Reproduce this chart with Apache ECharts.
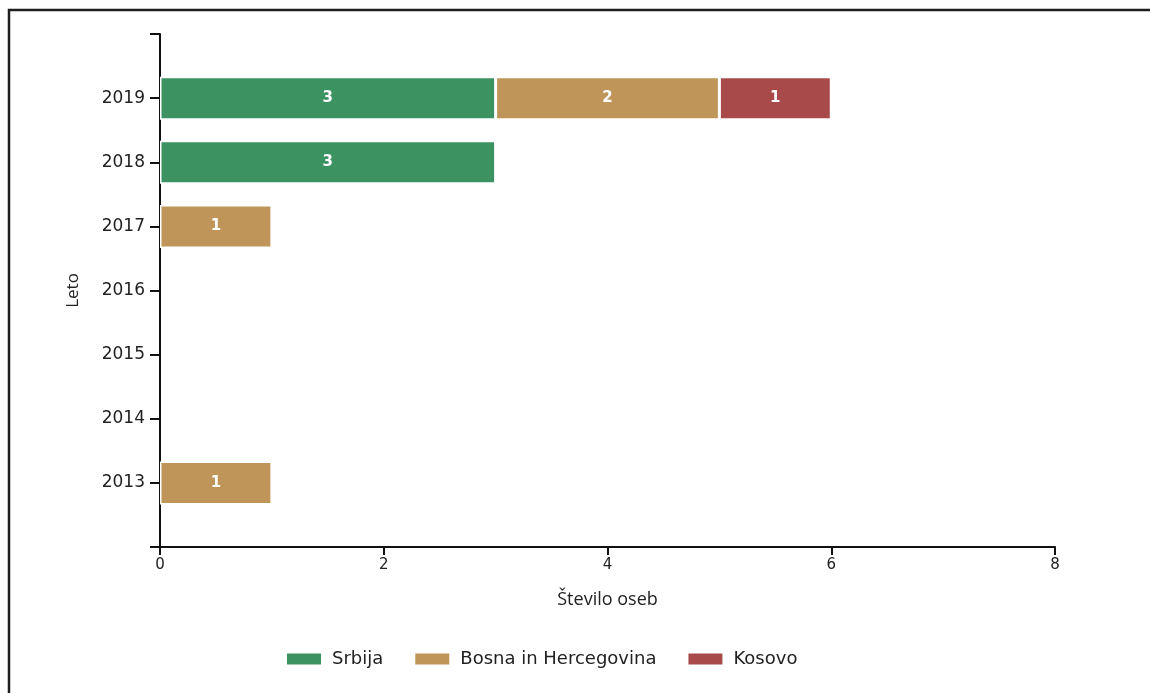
<!DOCTYPE html>
<html>
<head>
<meta charset="utf-8">
<script src="https://cdn.jsdelivr.net/npm/echarts@6/dist/echarts.min.js"></script>
<style>
html,body{margin:0;padding:0;background:#fff;}
#chart{width:1150px;height:693px;}
</style>
</head>
<body>
<div id="chart"></div>
<script>
// ---- data ----
const years = ['2013', '2014', '2015', '2016', '2017', '2018', '2019'];
const seriesNames = ['Srbija', 'Bosna in Hercegovina', 'Kosovo'];
const srbija = [null, null, null, null, null, 3, 3];
const bosna = [1, null, null, null, 1, null, 2];
const kosovo = [null, null, null, null, null, null, 1];
const xTicks = [0, 2, 4, 6, 8];
const xAxisName = 'Število oseb';
const yAxisName = 'Leto';

// ---- build ----
const pad = arr => ['-'].concat(arr.map(v => (v == null ? '-' : v))).concat(['-']);
const cats = [''].concat(years).concat(['']);
const colors = ['#3d9262', '#c0955a', '#a84a4a'];
const seriesData = [srbija, bosna, kosovo];

const chart = echarts.init(document.getElementById('chart'));
chart.setOption({
  animation: false,
  backgroundColor: '#fff',
  graphic: [{
    type: 'rect',
    shape: { x: 9, y: 10, width: 1300, height: 900 },
    style: { fill: 'none', stroke: '#1e1e1e', lineWidth: 2.5 },
    silent: true
  }],
  grid: { left: 160, right: 95, top: 34, bottom: 146, containLabel: false },
  legend: {
    data: seriesNames,
    left: 285,
    top: 650,
    padding: 0,
    icon: 'rect',
    itemWidth: 36,
    itemHeight: 13,
    itemGap: 30,
    textStyle: { fontFamily: 'DejaVu Sans', fontSize: 18, color: '#222', padding: [0, 0, 0, 5] }
  },
  xAxis: {
    type: 'value',
    min: xTicks[0],
    max: xTicks[xTicks.length - 1],
    interval: xTicks[1] - xTicks[0],
    name: xAxisName,
    nameLocation: 'middle',
    nameGap: 44,
    nameTextStyle: { fontFamily: 'Open Sans', fontSize: 18, color: '#222' },
    axisLine: { show: true, lineStyle: { color: '#111', width: 2 } },
    axisTick: { show: true, length: 8, lineStyle: { color: '#111', width: 2 } },
    axisLabel: { margin: 11, fontFamily: 'DejaVu Sans', fontSize: 15, color: '#222' },
    splitLine: { show: false }
  },
  yAxis: {
    type: 'category',
    data: cats,
    boundaryGap: false,
    name: yAxisName,
    nameLocation: 'middle',
    nameGap: 78,
    nameRotate: 90,
    nameTextStyle: { fontFamily: 'Open Sans', fontSize: 17, color: '#222' },
    axisLine: { show: true, lineStyle: { color: '#111', width: 2 } },
    axisTick: { show: true, length: 10, interval: 0, lineStyle: { color: '#111', width: 2 } },
    axisLabel: { interval: 0, margin: 15, fontFamily: 'DejaVu Sans', fontSize: 17, color: '#222' },
    splitLine: { show: false }
  },
  series: seriesNames.map((name, i) => ({
    name: name,
    type: 'bar',
    stack: 'total',
    barWidth: 43,
    data: pad(seriesData[i]),
    itemStyle: { color: colors[i], borderColor: '#fff', borderWidth: 1.5 },
    label: {
      show: true,
      position: 'inside',
      color: '#fff',
      fontWeight: 'bold',
      fontFamily: 'DejaVu Sans',
      fontSize: 15
    }
  }))
});
</script>
</body>
</html>
